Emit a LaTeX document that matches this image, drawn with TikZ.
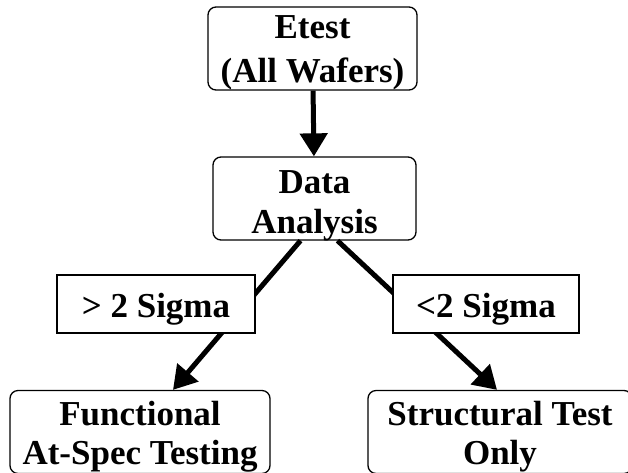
\documentclass[tikz,border=0pt]{standalone}
\usepackage{fontspec}
\setmainfont{Liberation Serif}
\usetikzlibrary{arrows.meta}
\begin{document}
\begin{tikzpicture}[x=1pt,y=-1pt,
        box/.style={draw,line width=1.3pt,rounded corners=8pt,align=center,inner sep=0pt,
            text depth=0pt,font=\bfseries\fontsize{35}{40}\selectfont},
        sigma/.style={draw,line width=1.3pt,fill=white,inner sep=0pt,
            text height=26pt,text depth=0pt,font=\bfseries\fontsize{35}{40}\selectfont},
        flow/.style={line width=5pt,-{Triangle[length=23pt,width=27pt]}}]
        \useasboundingbox (0,0) rectangle (628,472);
        \clip (0,0) rectangle (628,472);
        \node[box,minimum width=209pt,minimum height=83pt,text height=67pt] (etest) at (312.5,48.5) {Etest\\[4pt](All Wafers)};
        \node[box,minimum width=203pt,minimum height=83pt,text height=69pt] (data) at (314.5,198.5) {Data\\Analysis};
        \node[box,minimum width=260pt,minimum height=83pt,text height=64pt] (func) at (140,432) {Functional\\[-1pt]At-Spec Testing};
        \node[box,minimum width=264pt,minimum height=83pt,text height=64pt] (struct) at (500,432) {Structural Test\\[-1pt]Only};
        \draw[flow] (etest) -- (data);
        \draw[flow] ([xshift=-14pt]data.south) -- ([xshift=33pt]func.north);
        \draw[flow] ([xshift=23pt]data.south) -- ([xshift=-3pt]struct.north);
        \node[sigma,minimum width=198pt,minimum height=58pt] (high) at (156,304) {> 2 Sigma}; % over the line
        \node[sigma,minimum width=186pt,minimum height=58pt] (low) at (486,304) {<2 Sigma};
    \end{tikzpicture}
\end{document}
